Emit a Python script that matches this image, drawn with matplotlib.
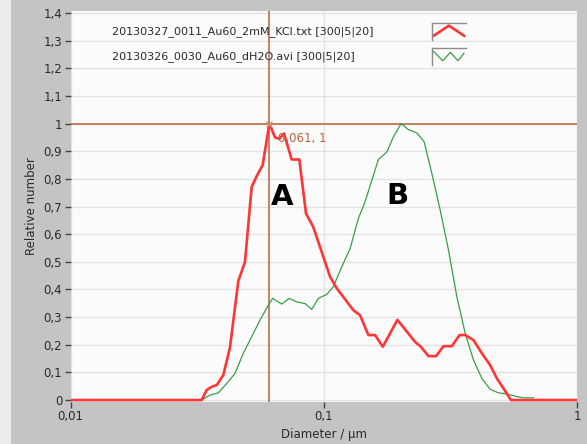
import numpy as np
import matplotlib.pyplot as plt
from matplotlib.patches import Rectangle
from matplotlib.ticker import FixedLocator, FuncFormatter, NullLocator

# size distributions (diameter in um, relative number)
kcl_d = [0.01, 0.03295, 0.03448, 0.03608, 0.03778, 0.04011, 0.04262, 0.04598,
         0.04886, 0.05192, 0.05435, 0.0574, 0.061, 0.06418, 0.06675, 0.06966,
         0.07471, 0.08008, 0.0851, 0.091, 0.1059, 0.1126, 0.1309, 0.1391,
         0.1501, 0.1595, 0.1711, 0.1954, 0.2296, 0.2418, 0.2591, 0.2779,
         0.297, 0.3206, 0.3436, 0.3619, 0.3902, 0.4212, 0.4543, 0.4829,
         0.5128, 0.5484, 1.0]
kcl_n = [0.0, 0.0, 0.036, 0.048, 0.054, 0.09, 0.19, 0.43,
         0.50, 0.77, 0.81, 0.85, 1.0, 0.95, 0.945, 0.964,
         0.87, 0.87, 0.675, 0.625, 0.446, 0.404, 0.325, 0.307,
         0.235, 0.235, 0.193, 0.29, 0.21, 0.193, 0.159, 0.159,
         0.195, 0.195, 0.235, 0.235, 0.217, 0.169, 0.126, 0.078,
         0.042, 0.0, 0.0]

h2o_d = [0.03295, 0.03553, 0.03833, 0.04136, 0.04461, 0.04812, 0.05192, 0.056,
         0.0604, 0.06285, 0.06823, 0.07311, 0.07822, 0.08433, 0.08968, 0.09522,
         0.1028, 0.1091, 0.1178, 0.1271, 0.137, 0.1456, 0.1548, 0.1644,
         0.1774, 0.1884, 0.2021, 0.2159, 0.2332, 0.2491, 0.2673, 0.2883,
         0.3109, 0.3355, 0.3619, 0.3902, 0.4212, 0.4543, 0.4897, 0.5287,
         0.5703, 0.6151, 0.6739]
h2o_n = [0.0, 0.018, 0.026, 0.06, 0.096, 0.169, 0.229, 0.289,
         0.343, 0.368, 0.347, 0.368, 0.355, 0.349, 0.328, 0.368,
         0.382, 0.41, 0.482, 0.548, 0.657, 0.717, 0.795, 0.87,
         0.897, 0.952, 1.0, 0.978, 0.966, 0.934, 0.819, 0.687,
         0.542, 0.373, 0.241, 0.145, 0.078, 0.039, 0.026, 0.022,
         0.014, 0.008, 0.008]

series_names = ["20130327_0011_Au60_2mM_KCl.txt [300|5|20]",
                "20130326_0030_Au60_dH2O.avi [300|5|20]"]
cursor_d, cursor_n = 0.061, 1.0
y_ticks = [0.0, 0.1, 0.2, 0.3, 0.4, 0.5, 0.6, 0.7, 0.8, 0.9, 1.0, 1.1, 1.2, 1.3, 1.4]
x_ticks = [0.01, 0.1, 1.0]

RED = "#ff3535"
GREEN = "#3a9e48"
BROWN = "#b4643a"
GRID = "#e3e3e3"
TXT = "#2a2a2a"

def comma(v, pos=None):
    s = "%g" % v
    return s.replace(".", ",")

fig = plt.figure(figsize=(5.87, 4.44), dpi=100, facecolor="#c4c4c4")
fig.patches.append(Rectangle((0, 0), 11 / 587, 1, transform=fig.transFigure,
                             facecolor="#ececec", edgecolor="none", zorder=-1))

ax = fig.add_axes([70.5 / 587, 1 - 402 / 444, 506.5 / 587, 391 / 444])
ax.set_facecolor("#fbfbfb")
ax.set_xscale("log")
ax.set_xlim(0.01, 1)
ax.set_ylim(-0.007, 1.407)

for s in ax.spines.values():
    s.set_visible(False)

ax.yaxis.set_major_locator(FixedLocator(y_ticks))
ax.yaxis.set_major_formatter(FuncFormatter(comma))
ax.xaxis.set_major_locator(FixedLocator(x_ticks))
ax.xaxis.set_major_formatter(FuncFormatter(comma))
ax.xaxis.set_minor_locator(NullLocator())
ax.tick_params(axis="both", direction="out", length=4, width=1, color="#444444",
               labelsize=8.5, labelcolor=TXT, pad=2)
ax.grid(True, which="major", color=GRID, linewidth=1)
ax.set_axisbelow(True)

ax.set_ylabel("Relative number", fontsize=8.5, color=TXT, labelpad=4)
ax.set_xlabel("Diameter / µm", fontsize=8.5, color=TXT, labelpad=3)

# cursor
ax.axhline(cursor_n, color=BROWN, linewidth=1.1, zorder=2)
ax.axvline(cursor_d, color=BROWN, linewidth=1.1, zorder=2)

ax.plot(h2o_d, h2o_n, color=GREEN, linewidth=0.9, zorder=3)
ax.plot(kcl_d, kcl_n, color=RED, linewidth=1.9, zorder=4)

ax.plot(cursor_d, cursor_n, marker="x", color="#c89a80", markersize=4,
        markeredgewidth=0.9, zorder=5)
ax.annotate(comma(cursor_d) + ", " + comma(cursor_n), (cursor_d, cursor_n),
            xytext=(6, -11), textcoords="offset points", fontsize=8.5,
            color=BROWN, va="center", ha="left", zorder=5)

ax.text(0.0682, 0.736, "A", fontsize=21, fontweight="bold", ha="center",
        va="center", color="black", zorder=6)
ax.text(0.1958, 0.738, "B", fontsize=21, fontweight="bold", ha="center",
        va="center", color="black", zorder=6)

# legend rows with line swatches
swatches = [([0, 0.5, 1], [0.25, 0.85, 0.25], RED, 1.9),
            ([0, 0.3, 0.55, 0.8, 1], [0.8, 0.25, 0.75, 0.25, 0.7], GREEN, 0.9)]
row_y = [0.947, 0.883]
box_y = [0.926, 0.862]
for name, yy, by, (sx, sy, c, lw) in zip(series_names, row_y, box_y, swatches):
    ax.text(0.0816, yy, name, transform=ax.transAxes, fontsize=8, color=TXT,
            va="center", ha="left", zorder=6)
    sw = ax.inset_axes([0.714, by, 0.066, 0.043])
    sw.set_xlim(-0.05, 1.05)
    sw.set_ylim(0, 1)
    sw.set_facecolor("#fbfbfb")
    sw.set_xticks([])
    sw.set_yticks([])
    for k, s in sw.spines.items():
        s.set_visible(k in ("top", "left"))
        s.set_color("#8c8c8c")
        s.set_linewidth(1)
    sw.plot(sx, sy, color=c, linewidth=lw)

fig.savefig("out.png", dpi=100, facecolor=fig.get_facecolor())
